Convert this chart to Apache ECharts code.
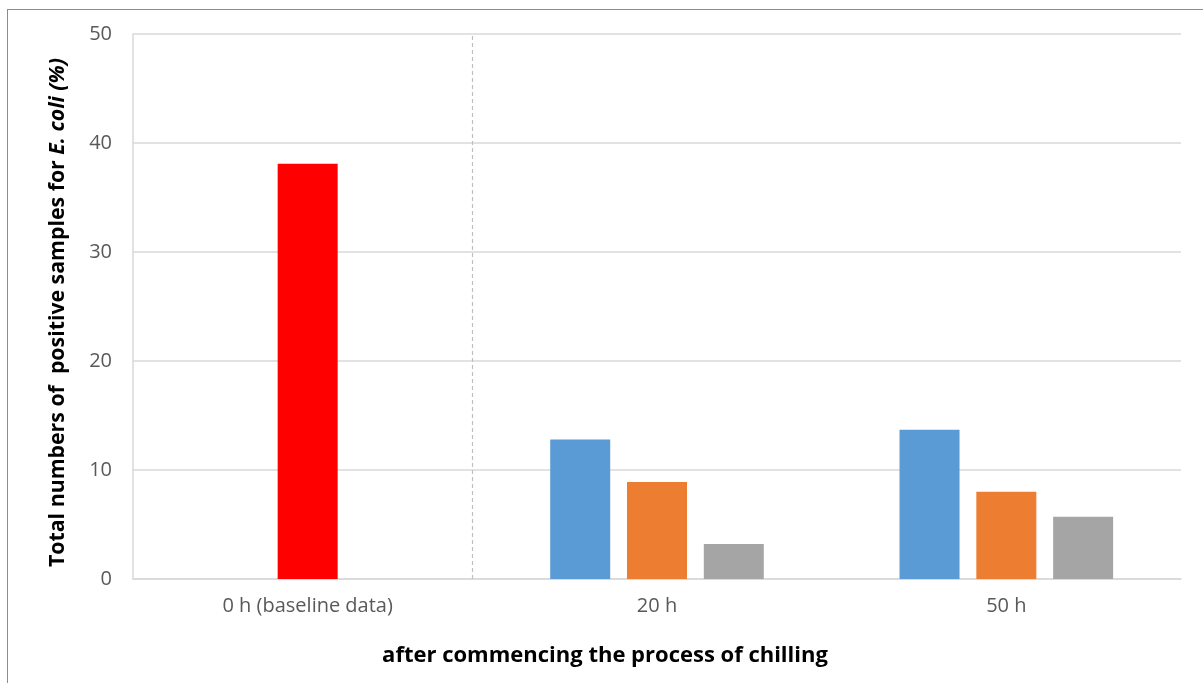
<!DOCTYPE html>
<html>
<head>
<meta charset="utf-8">
<script src="https://cdn.jsdelivr.net/npm/echarts@6/dist/echarts.min.js"></script>
<style>
  html, body { margin: 0; padding: 0; background: #fff; }
  #wrap { position: relative; width: 1203px; height: 683px; overflow: hidden; }
  #frame { position: absolute; left: 7px; top: 9px; width: 1300px; height: 800px;
           border-top: 1px solid #8c8c8c; border-left: 1px solid #8c8c8c; }
  #chart { position: absolute; left: 0; top: 0; width: 1203px; height: 683px; }
</style>
</head>
<body>
<div id="wrap">
  <div id="frame"></div>
  <div id="chart"></div>
</div>
<script>
// Sampling times after chilling started
const categories = ['0 h (baseline data)', '20 h', '50 h'];

// Share of E. coli positive samples (%) per group
const groupA = [null, 12.8, 13.7];   // blue
const groupB = [38.1, 8.9, 8.0];     // orange (baseline shown in red)
const groupC = [null, 3.2, 5.7];     // grey

// Y axis ticks
const yMin = 0, yMax = 50, yStep = 10;

// Separator between baseline and later samples, in category units
const separatorAt = 0.97;

const FONT = '"Open Sans", Lato, sans-serif';

const chart = echarts.init(document.getElementById('chart'), null, { renderer: 'canvas' });

chart.setOption({
  animation: false,
  grid: { left: 133, right: 22, top: 34, bottom: 104, containLabel: false },
  xAxis: [
    {
      type: 'category',
      data: categories,
      axisLine: { show: true, lineStyle: { color: '#d9d9d9', width: 1.5 } },
      axisTick: { show: false },
      axisLabel: { color: '#595959', fontSize: 20, fontFamily: FONT, margin: 17 },
      splitLine: { show: false }
    },
    {
      type: 'value',
      min: 0, max: categories.length,
      show: false
    }
  ],
  yAxis: {
    type: 'value',
    min: yMin, max: yMax, interval: yStep,
    axisLine: { show: true, lineStyle: { color: '#d9d9d9', width: 1.5 } },
    axisTick: { show: false },
    axisLabel: { color: '#595959', fontSize: 20, fontFamily: FONT, margin: 21 },
    splitLine: { show: true, lineStyle: { color: '#d9d9d9', width: 1.5 } },
    name: '{b|Total numbers of  positive samples for }{i|E. coli (%)}',
    nameLocation: 'middle',
    nameGap: 65,
    nameTextStyle: {
      padding: [0, 12, 0, 0],
      rich: {
        b: { fontFamily: FONT, fontWeight: 'bold', fontSize: 21.3, color: '#000' },
        i: { fontFamily: FONT, fontWeight: 'bold', fontStyle: 'italic', fontSize: 21.3, color: '#000' }
      }
    }
  },
  graphic: [
    {
      type: 'text',
      x: 605,
      y: 656,
      style: {
        text: 'after commencing the process of chilling',
        align: 'center',
        verticalAlign: 'middle',
        fontFamily: FONT, fontWeight: 'bold', fontSize: 22, fill: '#000'
      }
    }
  ],
  series: [
    {
      name: 'A', type: 'bar', data: groupA,
      barWidth: 60, barGap: '28%',
      itemStyle: { color: '#5b9bd5' }
    },
    {
      name: 'B', type: 'bar',
      data: groupB.map((v, i) => i === 0 ? { value: v, itemStyle: { color: '#ff0000' } } : v),
      barWidth: 60, barGap: '28%',
      itemStyle: { color: '#ed7d31' }
    },
    {
      name: 'C', type: 'bar', data: groupC,
      barWidth: 60, barGap: '28%',
      itemStyle: { color: '#a5a5a5' }
    },
    {
      name: 'separator', type: 'line', xAxisIndex: 1, data: [],
      markLine: {
        silent: true, symbol: 'none', label: { show: false },
        lineStyle: { color: '#bfbfbf', type: [4, 3], width: 1.2 },
        data: [{ xAxis: separatorAt }]
      }
    }
  ]
});
</script>
</body>
</html>
